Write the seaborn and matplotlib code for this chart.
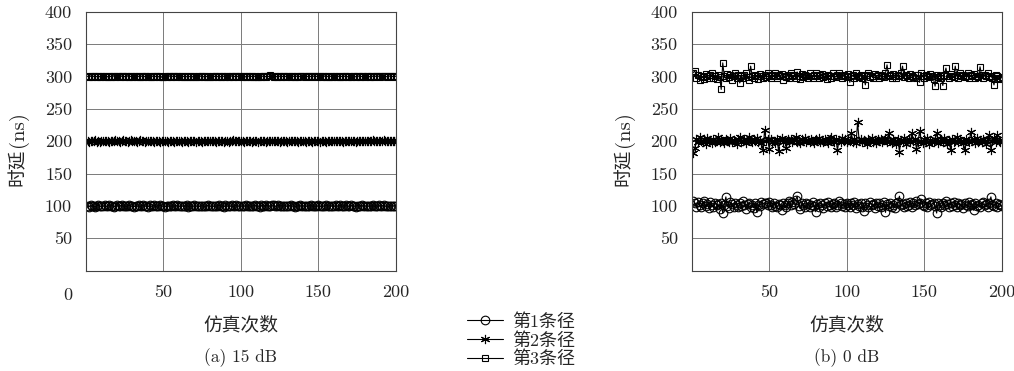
import numpy as np
import pandas as pd
import matplotlib
matplotlib.use("Agg")
import matplotlib.pyplot as plt
from matplotlib.lines import Line2D
import seaborn as sns

# ---------------- data ----------------
series_names = ["第1条径", "第2条径", "第3条径"]
x_ticks = [50, 100, 150, 200]
y_ticks = [50, 100, 150, 200, 250, 300, 350, 400]
panel_titles = ["(a) 15 dB", "(b) 0 dB"]

a_path1 = [100.4, 99.1, 100.8, 99.6, 100.2, 98.9, 100.5, 101.1, 99.4, 100.0, 99.7, 100.9, 99.2, 100.3, 101.4, 99.8, 100.6, 99.0, 100.1, 100.7,
           99.5, 100.2, 101.0, 99.3, 100.6, 99.9, 100.4, 101.3, 99.6, 100.0, 98.8, 100.5, 99.7, 100.9, 99.4, 100.2, 101.2, 99.8, 100.3, 99.1,
           100.7, 99.5, 100.1, 100.8, 99.2, 100.4, 99.9, 101.0, 99.6, 100.3, 98.7, 100.6, 99.8, 100.2, 99.4, 100.9, 99.7, 100.0, 101.1, 99.3,
           100.5, 99.9, 100.2, 99.6, 100.8, 99.1, 100.4, 100.0, 99.5, 100.7, 99.8, 100.3, 99.2, 100.6, 99.9, 100.1, 99.4, 100.5, 100.9, 99.7,
           100.0, 99.3, 100.6, 99.8, 100.2, 101.0, 99.5, 100.4, 99.1, 100.7, 99.9, 100.3, 99.6, 100.8, 99.2, 100.1, 101.3, 99.7, 100.5, 99.4,
           100.2, 99.8, 100.9, 99.3, 100.6, 100.0, 99.5, 100.4, 101.1, 99.7, 100.2, 99.0, 100.8, 99.6, 100.3, 101.4, 99.9, 100.5, 99.2, 100.7,
           101.6, 99.4, 100.1, 100.9, 99.8, 100.4, 99.3, 100.6, 100.0, 99.5, 100.2, 101.0, 99.7, 100.5, 99.1, 100.3, 99.9, 100.8, 99.4, 100.1,
           100.6, 99.6, 100.2, 99.9, 101.2, 99.3, 100.4, 100.0, 99.7, 100.7, 99.2, 100.5, 99.8, 100.1, 101.0, 99.5, 100.3, 99.9, 100.6, 99.4,
           100.9, 100.2, 99.6, 101.1, 99.8, 100.4, 99.3, 100.7, 100.0, 99.5, 100.8, 99.9, 100.2, 99.1, 100.6, 99.7, 100.3, 100.9, 99.4, 100.0,
           100.5, 99.8, 100.1, 99.6, 100.7, 99.2, 100.4, 99.9, 100.8, 99.5, 100.2, 101.1, 99.7, 100.3, 99.4, 100.6, 99.9, 100.1, 100.5, 99.8]

a_path2 = [200.6, 199.3, 200.9, 199.8, 200.2, 201.3, 199.5, 200.4, 199.1, 200.7, 200.0, 199.6, 201.0, 200.3, 199.4, 200.8, 199.9, 200.5, 201.2, 199.7,
           200.1, 199.2, 200.6, 201.4, 199.8, 200.3, 199.5, 200.9, 201.7, 200.2, 199.6, 200.7, 199.3, 200.4, 201.1, 199.9, 200.5, 199.4, 200.8, 200.0,
           199.7, 200.3, 201.0, 199.5, 200.6, 199.8, 200.2, 199.1, 200.9, 199.6, 200.4, 200.0, 199.3, 200.7, 199.9, 200.5, 199.2, 200.3, 199.7, 200.8,
           200.1, 199.4, 200.6, 199.9, 200.2, 199.5, 200.8, 200.0, 199.7, 200.4, 199.2, 200.6, 199.8, 200.3, 199.5, 200.9, 200.1, 199.6, 200.5, 199.9,
           200.3, 199.7, 200.7, 199.4, 200.1, 200.9, 199.8, 200.4, 199.5, 200.6, 200.0, 199.3, 200.8, 199.9, 201.2, 200.4, 199.6, 200.7, 201.0, 199.8,
           200.2, 199.5, 200.9, 199.7, 200.3, 200.0, 199.4, 200.6, 199.9, 200.8, 199.2, 200.4, 199.7, 200.1, 200.6, 199.5, 200.3, 199.8, 200.7, 200.0,
           199.6, 200.5, 199.9, 200.2, 199.3, 200.8, 200.1, 199.7, 200.4, 199.5, 200.6, 199.8, 200.3, 200.9, 199.6, 200.2, 199.4, 200.7, 200.0, 199.8,
           200.4, 199.5, 200.1, 199.9, 200.6, 199.3, 200.3, 199.7, 200.8, 200.0, 199.4, 200.5, 199.8, 200.2, 199.1, 200.6, 199.7, 200.3, 199.9, 200.4,
           200.1, 199.6, 200.7, 199.8, 200.2, 199.5, 200.4, 200.9, 199.7, 200.3, 199.9, 200.6, 200.0, 199.4, 200.8, 200.2, 199.7, 200.5, 201.0, 199.9,
           200.3, 200.7, 199.8, 200.4, 201.1, 199.6, 200.5, 200.0, 200.8, 199.7, 200.3, 201.2, 200.1, 200.6, 199.9, 200.4, 201.0, 200.2, 200.7, 200.3]

a_path3 = [300.4, 299.6, 300.9, 299.2, 300.5, 300.0, 299.7, 300.8, 299.4, 300.3, 301.0, 299.8, 300.2, 299.5, 300.7, 299.9, 300.4, 301.2, 299.6, 300.1,
           300.6, 299.3, 300.9, 300.2, 299.7, 300.5, 301.1, 299.8, 300.3, 299.5, 300.8, 300.0, 299.6, 300.4, 299.9, 300.7, 299.4, 300.2, 300.9, 299.7,
           300.3, 299.8, 300.6, 299.5, 300.1, 300.8, 299.3, 300.4, 298.6, 299.7, 300.5, 299.9, 300.2, 301.0, 299.6, 300.4, 301.3, 299.8, 300.6, 300.1,
           299.5, 300.3, 299.9, 300.7, 299.4, 300.2, 299.8, 300.5, 299.3, 300.0, 299.6, 300.4, 299.9, 300.8, 300.2, 299.5, 300.6, 299.7, 300.3, 299.9,
           300.5, 299.6, 300.2, 300.9, 299.8, 300.4, 299.5, 300.7, 300.1, 299.7, 300.3, 299.9, 300.6, 301.0, 299.6, 300.2, 300.8, 299.9, 300.4, 300.0,
           299.7, 300.5, 299.3, 300.1, 300.6, 299.8, 300.2, 299.4, 300.7, 298.9, 299.6, 300.3, 299.9, 300.5, 300.1, 299.7, 300.4, 300.0, 301.6, 300.2,
           299.8, 300.5, 299.6, 300.9, 300.3, 299.7, 300.1, 300.6, 299.8, 300.4, 300.0, 299.5, 300.7, 300.2, 299.9, 300.5, 299.6, 300.3, 300.8, 300.1,
           299.7, 300.4, 300.0, 300.6, 299.8, 301.2, 300.3, 300.7, 299.9, 300.5, 300.1, 299.6, 300.4, 300.8, 299.7, 300.2, 299.5, 300.6, 299.9, 300.3,
           300.0, 299.7, 300.5, 299.4, 300.2, 299.8, 300.6, 300.1, 299.6, 300.4, 299.9, 300.7, 300.2, 299.5, 300.3, 300.8, 299.7, 300.1, 300.5, 299.8,
           300.4, 300.0, 299.6, 300.9, 300.2, 299.8, 300.5, 300.1, 300.7, 299.9, 300.3, 300.6, 300.0, 299.7, 300.4, 300.8, 300.2, 299.9, 300.5, 300.3]

b_path1 = [108, 104, 99, 106, 101, 98, 105, 107, 100, 103, 97, 106, 102, 99, 105, 101, 103, 96, 104, 89,
           102, 114, 100, 97, 106, 103, 99, 105, 101, 98, 104, 100, 107, 102, 96, 103, 105, 99, 101, 97,
           104, 90, 102, 100, 106, 103, 105, 104, 102, 106, 101, 99, 104, 100, 98, 103, 101, 94, 105, 102,
           99, 104, 107, 101, 106, 103, 109, 115, 100, 96, 104, 102, 99, 105, 103, 98, 101, 106, 100, 91,
           103, 99, 105, 102, 97, 104, 100, 106, 101, 98, 103, 105, 99, 102, 107, 104, 100, 103, 98, 105,
           102, 99, 104, 101, 106, 97, 103, 100, 105, 98, 92, 104, 101, 99, 106, 102, 103, 97, 105, 100,
           104, 98, 102, 106, 90, 103, 100, 105, 99, 102, 97, 104, 106, 115, 101, 103, 98, 105, 100, 102,
           106, 99, 104, 101, 107, 103, 105, 110, 102, 100, 104, 98, 106, 101, 103, 105, 100, 89, 104, 102,
           99, 105, 101, 107, 103, 98, 104, 100, 106, 102, 99, 105, 101, 103, 97, 104, 102, 100, 106, 101,
           103, 93, 105, 100, 102, 98, 104, 106, 101, 103, 99, 105, 114, 102, 100, 104, 98, 103, 101, 100]

b_path2 = [182, 190, 204, 198, 206, 201, 199, 203, 196, 205, 200, 202, 197, 204, 199, 201, 206, 198, 203, 200,
           197, 204, 201, 199, 205, 198, 202, 200, 196, 203, 206, 199, 201, 204, 197, 202, 207, 200, 198, 203,
           201, 205, 199, 202, 197, 186, 218, 200, 203, 188, 204, 199, 201, 197, 203, 185, 202, 205, 199, 201,
           189, 203, 200, 204, 198, 202, 206, 199, 201, 197, 203, 200, 205, 198, 202, 199, 204, 201, 197, 203,
           200, 205, 198, 202, 199, 204, 201, 197, 203, 206, 200, 198, 204, 186, 202, 199, 205, 201, 203, 198,
           202, 200, 212, 199, 203, 197, 229, 201, 204, 198, 202, 200, 196, 203, 201, 205, 199, 202, 197, 204,
           200, 203, 198, 202, 205, 199, 212, 201, 197, 203, 200, 195, 204, 184, 202, 199, 205, 196, 201, 203,
           198, 212, 200, 204, 188, 199, 215, 201, 197, 203, 199, 205, 196, 202, 200, 198, 204, 213, 197, 201,
           203, 199, 205, 200, 196, 202, 187, 204, 199, 201, 206, 198, 203, 200, 197, 186, 204, 201, 199, 214,
           200, 203, 197, 205, 199, 202, 198, 204, 201, 196, 203, 210, 187, 200, 205, 198, 209, 201, 199, 202]

b_path3 = [306, 309, 298, 303, 295, 301, 299, 296, 304, 300, 297, 302, 305, 298, 301, 296, 303, 299, 280, 321,
           300, 297, 304, 299, 302, 295, 301, 306, 298, 303, 290, 300, 297, 302, 305, 299, 294, 316, 301, 298,
           303, 300, 296, 304, 301, 298, 302, 299, 305, 300, 297, 303, 301, 306, 298, 302, 300, 304, 295, 301,
           299, 303, 297, 305, 300, 302, 298, 307, 301, 296, 304, 299, 302, 300, 297, 305, 301, 298, 303, 306,
           300, 297, 302, 304, 299, 301, 296, 303, 300, 298, 305, 301, 299, 302, 306, 300, 297, 303, 301, 299,
           304, 291, 300, 302, 298, 305, 301, 299, 303, 297, 300, 287, 302, 306, 299, 301, 298, 304, 300, 302,
           297, 303, 301, 299, 305, 318, 300, 302, 298, 304, 301, 297, 303, 300, 306, 316, 299, 302, 300, 298,
           304, 301, 299, 303, 297, 302, 291, 305, 300, 298, 303, 301, 299, 304, 300, 296, 285, 302, 299, 301,
           297, 286, 303, 313, 300, 298, 304, 301, 299, 316, 302, 298, 305, 300, 303, 299, 301, 306, 298, 302,
           300, 304, 297, 301, 299, 315, 302, 298, 303, 300, 305, 299, 301, 297, 287, 302, 300, 298, 296, 299]

panels = [[a_path1, a_path2, a_path3], [b_path1, b_path2, b_path3]]

# ---------------- style ----------------
sns.set_style("white")
plt.rcParams["font.family"] = ["cmr10", "Noto Sans CJK SC", "DejaVu Sans"]
plt.rcParams["axes.unicode_minus"] = False
FS = 13

markers = ["o", (6, 2, 0), "s"]
msizes = [6.2, 6.6, 4.8]

fig = plt.figure(figsize=(10.14, 3.71), dpi=100)
ax_pos = [[0.0848, 0.2704, 0.3057, 0.698], [0.6822, 0.2704, 0.3057, 0.698]]

for p, (pos, series) in enumerate(zip(ax_pos, panels)):
    ax = fig.add_axes(pos)
    for name, vals, mk, ms in zip(series_names, series, markers, msizes):
        df = pd.DataFrame({"x": np.arange(1, len(vals) + 1), "y": vals})
        sns.lineplot(data=df, x="x", y="y", ax=ax, color="k", lw=0.8,
                     marker=mk, markersize=ms, markerfacecolor="none",
                     markeredgecolor="k", markeredgewidth=0.8, label=name,
                     legend=False)
    ax.set_xlim(0, 200)
    ax.set_ylim(0, 400)
    ax.set_xticks(x_ticks)
    ax.set_xticklabels([str(t) for t in x_ticks])
    ax.set_yticks(y_ticks)
    ax.set_yticklabels([str(t) for t in y_ticks])
    ax.grid(True, color="#7a7a7a", lw=0.7)
    ax.tick_params(length=0, labelsize=FS, pad=10)
    for s in ax.spines.values():
        s.set_color("#444444")
        s.set_linewidth(0.8)
    ax.set_xlabel("")
    ax.set_ylabel("")
    ax.text(0.5, -0.21, "仿真次数", transform=ax.transAxes, ha="center",
            va="center", fontsize=FS + 0.5)
    ax.text(0.5, -0.335, panel_titles[p], transform=ax.transAxes, ha="center",
            va="center", fontsize=FS - 0.5)
    # y label: Chinese part and "(ns)" part, stacked along the rotated direction
    ax.text(-0.22, 0.40, "时延", transform=ax.transAxes, ha="center",
            va="center", rotation=90, fontsize=FS + 0.5)
    ax.text(-0.22, 0.545, "(ns)", transform=ax.transAxes, ha="center",
            va="center", rotation=90, fontsize=FS + 2)
    if p == 0:
        ax.text(-0.058, -0.094, "0", transform=ax.transAxes, ha="center",
                va="center", fontsize=FS)

handles = [Line2D([], [], color="k", lw=0.8, marker=mk, markersize=ms,
                  markerfacecolor="none", markeredgecolor="k",
                  markeredgewidth=0.8) for mk, ms in zip(markers, msizes)]
fig.legend(handles, series_names, loc="center", bbox_to_anchor=(0.514, 0.083),
           frameon=False, fontsize=FS, handlelength=2.0, labelspacing=0.12,
           handletextpad=0.5, borderpad=0.1)

fig.savefig("out.png", dpi=100)
